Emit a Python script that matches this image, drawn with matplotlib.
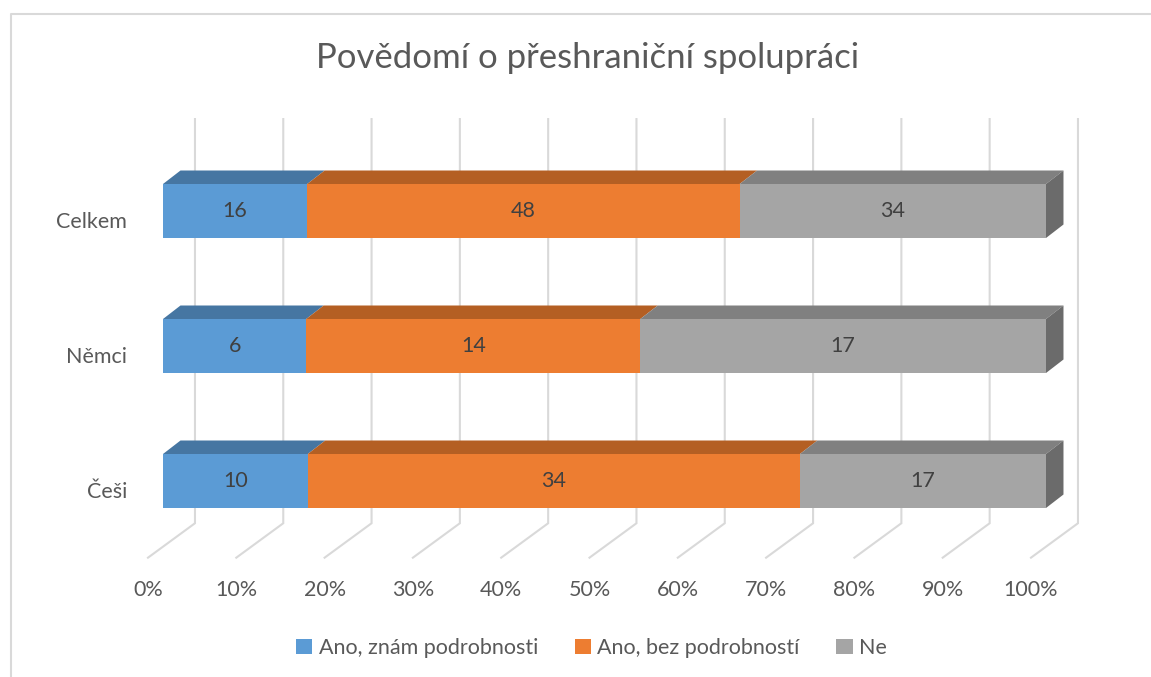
import numpy as np
import matplotlib
matplotlib.use("Agg")
import matplotlib.pyplot as plt
from matplotlib.patches import Polygon, Patch
from matplotlib.lines import Line2D

####### ------- data -------------------------------------------------
categories = ["Češi", "Němci", "Celkem"]          ## bottom -> top
series_names = ["Ano, znám podrobnosti", "Ano, bez podrobností", "Ne"]
znam = [10, 6, 16]
bez = [34, 14, 48]
ne = [17, 17, 34]
tick_labels = ["0%", "10%", "20%", "30%", "40%", "50%", "60%", "70%", "80%", "90%", "100%"]

####### ------- style ------------------------------------------------
front_cols = ["#5B9BD5", "#ED7D31", "#A5A5A5"]
top_cols = ["#4676A2", "#B45F23", "#808080"]
side_col = "#6B6B6B"
text_col = "#595959"
grid_col = "#D9D9D9"
plt.rcParams['font.family'] = ['Lato', 'DejaVu Sans']
fs = 15.5

W, H = 1151, 677
px_per_pct = 8.83          ## horizontal scale of the front face
px_per_cat = 135.0         ## vertical distance between bars
x0_px, y0_px = 163, 481    ## pixel of 0 % / first category

fig = plt.figure(figsize=(W / 100, H / 100), dpi=100)
ax = fig.add_axes([0, 0, 1, 1])
ax.set_xlim(-x0_px / px_per_pct, (W - x0_px) / px_per_pct)
ax.set_ylim((y0_px - H) / px_per_cat, y0_px / px_per_cat)
ax.axis("off")

bar_h = 0.4
dx, dy = 1.98, 0.10          ## depth of the bars
wall_dx = 3.62               ## back wall offset
floor_dx, floor_y = -1.70, -0.568
wall_top, wall_bot = 2.681, -0.313

## ---- back wall grid + floor lines
for k in range(11):
    xb = 10 * k + wall_dx
    ax.plot([xb, xb, 10 * k + floor_dx], [wall_top, wall_bot, floor_y],
            color=grid_col, lw=1.5, zorder=1, solid_joinstyle="miter")
    ax.text(10 * k + floor_dx, -0.807, tick_labels[k], ha="center", va="center",
            fontsize=fs, color=text_col)

## ---- bars (percent stacked)
vals = np.array([znam, bez, ne], dtype=float)
totals = vals.sum(axis=0)
pct = vals / totals * 100
ypos = np.arange(len(categories))
left = np.zeros(len(categories))
for s in range(3):
    ax.barh(ypos, pct[s], left=left, height=bar_h, color=front_cols[s],
            edgecolor="none", zorder=3)
    for i, y in enumerate(ypos):
        l, w = left[i], pct[s][i]
        yt = y + bar_h / 2
        ax.add_patch(Polygon([(l, yt), (l + w, yt), (l + w + dx, yt + dy), (l + dx, yt + dy)],
                             closed=True, color=top_cols[s], zorder=2, lw=0))
        ax.text(l + w / 2, y, f"{int(vals[s][i])}", ha="center", va="center",
                fontsize=fs, color="#404040", zorder=5)
    left = left + pct[s]

## right side faces
for y in ypos:
    yb, yt = y - bar_h / 2, y + bar_h / 2
    ax.add_patch(Polygon([(100, yb), (100, yt), (100 + dx, yt + dy), (100 + dx, yb + dy)],
                         closed=True, color=side_col, zorder=2, lw=0))

## category labels
for y, c in zip(ypos, categories):
    ax.text(-4.08, y - 0.085, c, ha="right", va="center", fontsize=fs, color=text_col)

## ---- title
fig.text(0.5104, 1 - 58 / H, "Povědomí o přeshraniční spolupráci", ha="center", va="center",
         fontsize=25, color=text_col)

## ---- legend
handles = [Patch(facecolor=c, edgecolor="none") for c in front_cols]
fig.legend(handles, series_names, loc="center", bbox_to_anchor=(0.514, 1 - 648 / H),
           ncol=3, frameon=False, fontsize=fs, labelcolor=text_col,
           handlelength=0.75, handleheight=0.75, handletextpad=0.3, columnspacing=1.7)

## ---- chart frame (top and left edge)
fig.add_artist(Line2D([10.5 / W, 10.5 / W, 1], [0, 1 - 14 / H, 1 - 14 / H],
                      color=grid_col, lw=1.5))

fig.savefig("out.png", dpi=100)
